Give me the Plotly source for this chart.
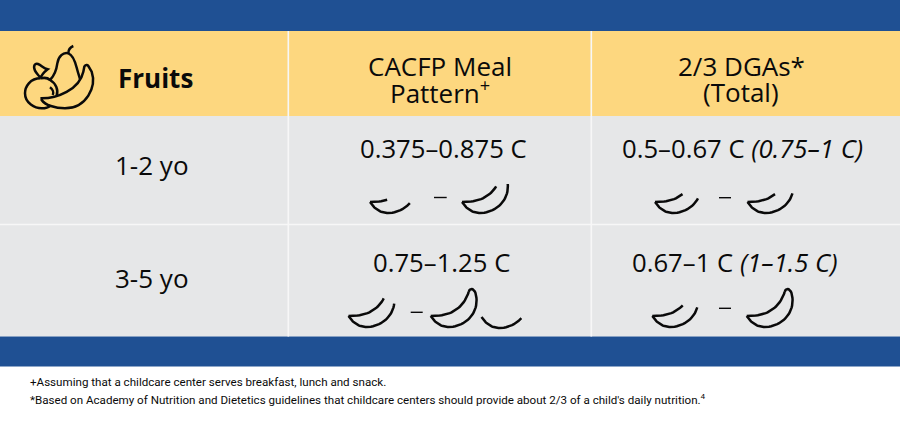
import re
import numpy as np
import plotly.graph_objects as go

# ---- content
header_title = "Fruits"
header_meal = ["CACFP Meal", "Pattern<sup>+</sup>"]
header_dga = ["2/3 DGAs*", "(Total)"]
age_groups = ["1-2 yo", "3-5 yo"]
meal_pattern = ["0.375–0.875 C", "0.75–1.25 C"]
dga_values = ["0.5–0.67 C <i>(0.75–1 C)</i>", "0.67–1 C <i>(1–1.5 C)</i>"]
footnotes = [
    "+Assuming that a childcare center serves breakfast, lunch and snack.",
    "*Based on Academy of Nutrition and Dietetics guidelines that childcare centers should provide about 2/3 of a child's daily nutrition.<sup>4</sup>",
]

# ---- style
BLUE, YELLOW, GRAY, INK = "#1F5093", "#FDD77F", "#E6E7E8", "#0A0A0A"
FONT = "Open Sans"
W, H = 900, 422


def bez(p0, p1, p2, p3, n=24):
    t = np.linspace(0, 1, n)[:, None]
    p0, p1, p2, p3 = map(np.array, (p0, p1, p2, p3))
    return (1-t)**3*p0 + 3*(1-t)**2*t*p1 + 3*(1-t)*t**2*p2 + t**3*p3


# banana glyph, local pixels, tip at (0, 0)
INNER = bez((0, 0), (18, 0.5), (32, -6), (38, -24))
OUTER = np.vstack([
    bez((0, 0), (5, 8), (12, 11.5), (20, 11)),
    bez((20, 11), (38, 9), (48, -5), (45.5, -20)),
    bez((45.5, -20), (45, -24), (43, -27), (41, -27), 8),
    bez((41, -27), (39.5, -27), (38.5, -26), (38, -24), 6),
])


def glyph(tx, ty, inner_x=None, outer_y=None):
    """Banana at tip (tx, ty); inner stroke stops at local x, outer at local y."""
    parts = []
    if inner_x is None and outer_y is None:
        parts = [INNER, OUTER]
    else:
        if inner_x:
            parts.append(INNER[INNER[:, 0] <= inner_x])
        bottom = np.argmax(OUTER[:, 1])
        keep = np.arange(len(OUTER)) <= bottom
        keep |= (OUTER[:, 1] >= outer_y) & (np.arange(len(OUTER)) < 52)
        parts.append(OUTER[keep])
    xs, ys = [], []
    for p in parts:
        xs += list(p[:, 0] + tx) + [None]
        ys += list(p[:, 1] + ty) + [None]
    return xs, ys


glyphs = [
    glyph(370, 202, 18, 0),
    glyph(462, 202, 35, -19.5),
    glyph(655, 202, 28, -4),
    glyph(747.5, 202, 29, -9),
    glyph(348.5, 316, 36, -13.5),
    glyph(430.7, 316),
    glyph(481.5, 317, 0.01, 0),
    glyph(652.3, 316, 31, -9),
    glyph(746.7, 316),
]
dashes = [(434, 446.7, 197.5), (719, 731, 197.7), (410.7, 422.7, 312.3), (719, 731, 308.3)]

fig = go.Figure()
for xs, ys in glyphs:
    fig.add_trace(go.Scatter(x=xs, y=ys, mode="lines", hoverinfo="skip", showlegend=False,
                             line=dict(color=INK, width=2.5, shape="linear")))

shapes = []


def rect(y0, y1, c):
    shapes.append(dict(type="rect", x0=0, x1=W, y0=y0, y1=y1, fillcolor=c, line_width=0, layer="below"))


rect(0, 31, BLUE)
rect(31, 116, YELLOW)
rect(116, 336.5, GRAY)
rect(336.5, 366.5, BLUE)
for x in (288.3, 591.3):
    shapes.append(dict(type="line", x0=x, x1=x, y0=31, y1=336.5, line=dict(color="#F7F7F7", width=1.6), layer="below"))
shapes.append(dict(type="line", x0=0, x1=W, y0=224.5, y1=224.5, line=dict(color="#F7F7F7", width=1.5), layer="below"))
for x0, x1, y in dashes:
    shapes.append(dict(type="line", x0=x0, x1=x1, y0=y, y1=y, line=dict(color=INK, width=1.4)))

# fruit icon, drawn at 3x in the local path below
icon = [
    "M122,235 C90,235 75,260 75,280 C75,310 105,325 125,325 C138,325 148,320 152,316",
    "M122,235 C135,232 145,235 150,240 C168,250 176,270 170,287",
    "M150,262 C158,268 162,278 158,285",
    "M122,235 C116,225 110,222 105,212 C98,196 106,189 114,192 C125,196 130,205 143,208 C133,216 125,222 122,235",
    "M150,240 C165,225 170,205 172,190 C175,170 190,155 205,160 C222,165 228,195 232,210 C235,222 238,228 240,238",
    "M205,160 C205,150 210,142 220,138",
    "M125,295 C170,295 238,270 250,215 L253,200 C256,194 262,194 265,198 L275,215 C290,260 260,325 195,325 C165,325 135,315 125,300 Z",
]


def scale_path(p):
    return re.sub(r"-?\d+\.?\d*", lambda m: f"{float(m.group())/3:.2f}", p)


for p in icon:
    shapes.append(dict(type="path", path=scale_path(p), line=dict(color=INK, width=2.5)))

ann = []


def text(x, y, s, size, anchor="center", bold=False, family=FONT, color=INK):
    ann.append(dict(x=x, y=y, text=f"<b>{s}</b>" if bold else s, showarrow=False, xanchor=anchor,
                    yanchor="middle", align=anchor, font=dict(family=family, size=size, color=color)))


text(116, 78, header_title, 26, "left", bold=True)
text(439.5, 66, header_meal[0], 26)
text(439.5, 92, header_meal[1], 26)
text(741, 66, header_dga[0], 26)
text(741, 92, header_dga[1], 26)
for i, y in enumerate((165, 278)):
    text(152, y, age_groups[i], 26)
for i, (x, x2, y) in enumerate(((443.5, 742, 148), (441, 734.5, 262))):
    text(x, y, meal_pattern[i], 25.7)
    text(x2, y, dga_values[i], 25.7)
text(28, 381.5, footnotes[0], 11.6, "left", family="Roboto")
text(28, 399, footnotes[1], 11.6, "left", family="Roboto")

fig.update_layout(
    width=W, height=H, margin=dict(l=0, r=0, t=0, b=0), paper_bgcolor="white", plot_bgcolor="white",
    xaxis=dict(range=[0, W], visible=False, fixedrange=True),
    yaxis=dict(range=[H, 0], visible=False, fixedrange=True),
    shapes=shapes, annotations=ann, showlegend=False,
)
fig.write_html("out.html", config={"displayModeBar": False},
               post_script="document.body.style.margin='0';document.body.style.overflow='hidden';")
